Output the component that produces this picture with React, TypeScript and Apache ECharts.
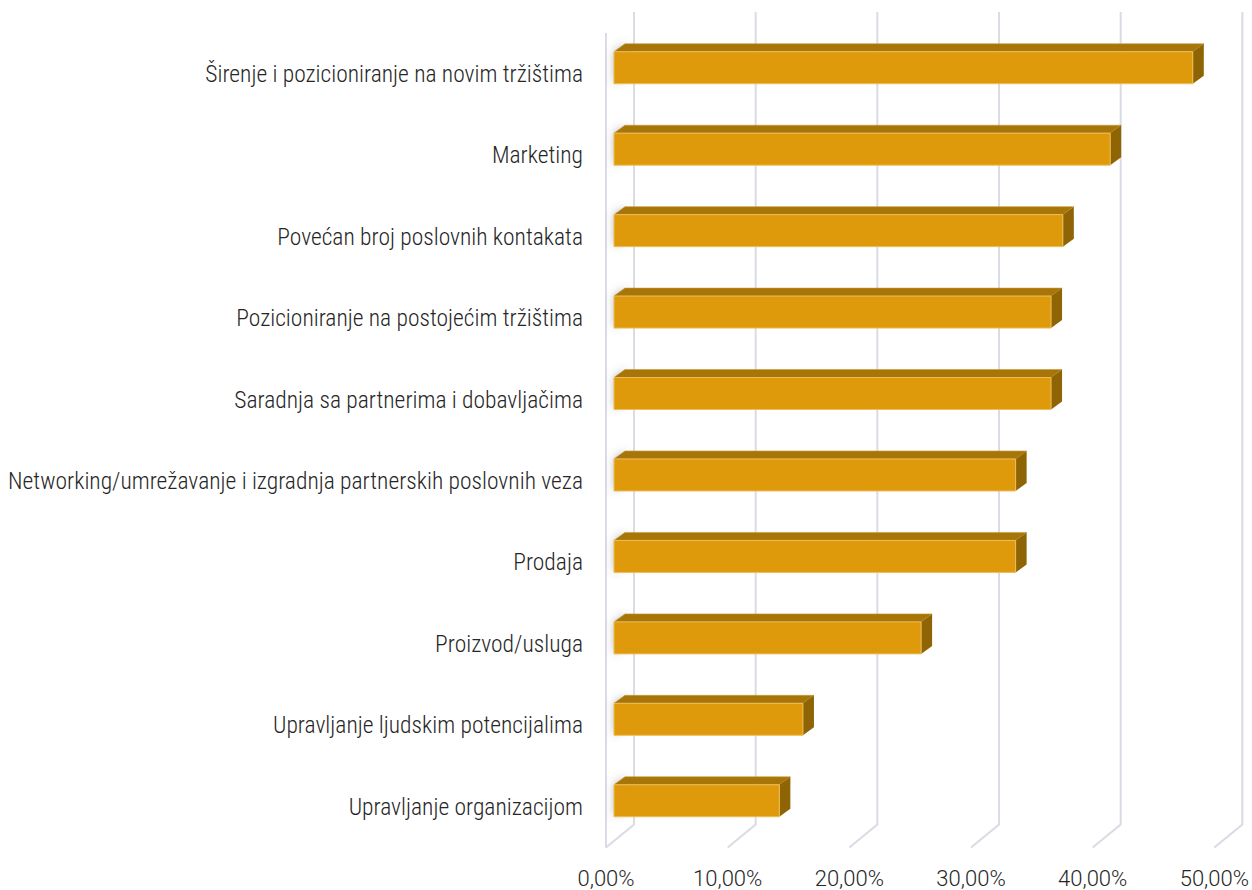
import React, { useEffect, useRef } from "react";
import * as echarts from "echarts";

const categories = [
  "Širenje i pozicioniranje na novim tržištima",
  "Marketing",
  "Povećan broj poslovnih kontakata",
  "Pozicioniranje na postojećim tržištima",
  "Saradnja sa partnerima i dobavljačima",
  "Networking/umrežavanje i izgradnja partnerskih poslovnih veza",
  "Prodaja",
  "Proizvod/usluga",
  "Upravljanje ljudskim potencijalima",
  "Upravljanje organizacijom",
];
const values = [47.57, 40.78, 36.89, 35.92, 35.92, 33.01, 33.01, 25.24, 15.53, 13.59];
const tickValues = [0, 10, 20, 30, 40, 50];

const FONT_COND = "'Roboto Condensed', 'Liberation Sans Narrow', 'DejaVu Sans Condensed', sans-serif";
const FONT_AXIS = "Roboto, 'Liberation Sans', sans-serif";

export default function App() {
  const ref = useRef<HTMLDivElement>(null);
  useEffect(() => {
    if (!ref.current) return;
    const chart = echarts.init(ref.current, undefined, { renderer: "svg" });
    const gridColor = "#D9DBE5";
    chart.setOption({
      animation: false,
      backgroundColor: "#ffffff",
      grid: { left: 606, right: 35, top: 33, bottom: 42.5, containLabel: false },
      xAxis: {
        type: "value",
        min: 0,
        max: 50,
        interval: 10,
        splitLine: { show: false },
        axisLine: { show: false },
        axisTick: { show: false },
        axisLabel: {
          margin: 20,
          fontSize: 22,
          fontWeight: 300,
          color: "#262626",
          fontFamily: FONT_AXIS,
          formatter: (v: number) => v.toFixed(2).replace(".", ",") + "%",
        },
      },
      yAxis: {
        type: "category",
        data: categories,
        inverse: true,
        axisLine: { show: false },
        axisTick: { show: false },
        axisLabel: {
          margin: 23,
          fontSize: 23.5,
          fontWeight: 300,
          color: "#262626",
          fontFamily: FONT_COND,
          padding: [4, 0, 0, 0],
        },
      },
      series: [
        {
          type: "custom",
          silent: true,
          data: tickValues.map((v) => [v, 0]),
          encode: { x: 0, y: 1 },
          renderItem: (params: any, api: any) => {
            const v = api.value(0);
            const p = api.coord([v, 0]);
            const cs = params.coordSys;
            const top = cs.y;
            const bottom = cs.y + cs.height;
            const x = p[0];
            const children: any[] = [
              {
                type: "polyline",
                shape: {
                  points: [
                    [x + 28, top - 21],
                    [x + 28, bottom - 23],
                    [x, bottom],
                  ],
                },
                style: { stroke: gridColor, lineWidth: 2, fill: null },
              },
            ];
            if (v === 0) {
              children.push({
                type: "line",
                shape: { x1: x, y1: top, x2: x, y2: bottom },
                style: { stroke: gridColor, lineWidth: 2 },
              });
            }
            return { type: "group", children };
          },
        },
        {
          type: "custom",
          data: values.map((v, i) => [v, i]),
          encode: { x: 0, y: 1 },
          renderItem: (params: any, api: any) => {
            const v = api.value(0);
            const i = api.value(1);
            const c = api.coord([0, i]);
            const e = api.coord([v, i]);
            const x0 = c[0] + 8;
            const x1 = e[0] + 8;
            const yt = c[1] - 22;
            const yb = c[1] + 10;
            const dx = 11;
            const dy = -8;
            return {
              type: "group",
              children: [
                {
                  type: "polygon",
                  shape: {
                    points: [
                      [x0, yt],
                      [x0 + dx, yt + dy],
                      [x0 + dx, yb + dy],
                      [x0, yb],
                    ],
                  },
                  style: {
                    fill: "rgba(120,120,120,0.55)",
                    shadowBlur: 8,
                    shadowColor: "rgba(90,90,90,0.8)",
                  },
                },
                {
                  type: "polygon",
                  shape: {
                    points: [
                      [x0, yt],
                      [x0 + dx, yt + dy],
                      [x1 + dx, yt + dy],
                      [x1, yt],
                    ],
                  },
                  style: { fill: "#A87508", stroke: "#C79A3A", lineWidth: 0.6 },
                },
                {
                  type: "polygon",
                  shape: {
                    points: [
                      [x1, yt],
                      [x1 + dx, yt + dy],
                      [x1 + dx, yb + dy],
                      [x1, yb],
                    ],
                  },
                  style: { fill: "#8E6405" },
                },
                {
                  type: "rect",
                  shape: { x: x0, y: yt, width: x1 - x0, height: yb - yt },
                  style: { fill: "#DE9A0A", stroke: "#EDBE5A", lineWidth: 1 },
                },
              ],
            };
          },
        },
      ],
    });
    return () => chart.dispose();
  }, []);
  return (
    <div
      ref={ref}
      style={{ position: "fixed", left: 0, top: 0, width: 1252, height: 890 }}
    />
  );
}
